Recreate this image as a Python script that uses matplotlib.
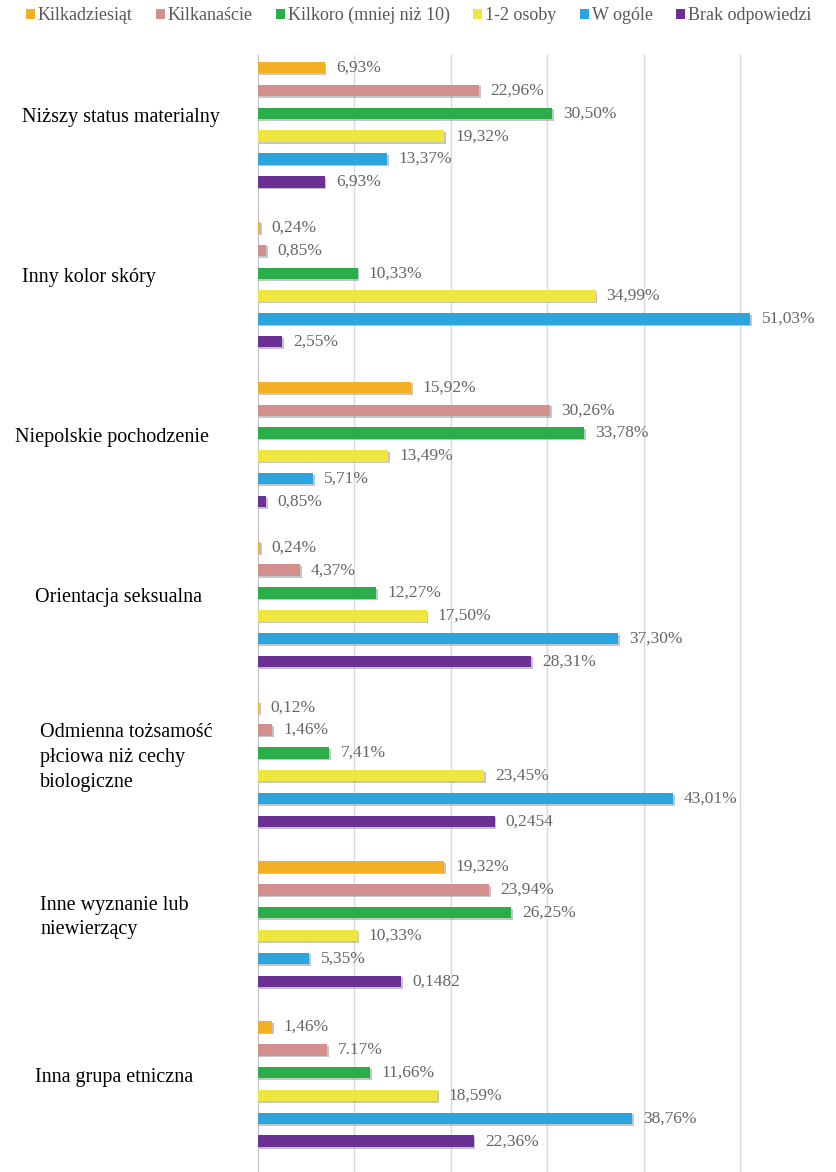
import matplotlib.pyplot as plt
import matplotlib.patheffects as pe
from matplotlib.patches import Patch
from matplotlib.transforms import blended_transform_factory

plt.rcParams['font.family'] = ['Liberation Serif', 'DejaVu Serif']

# Datos
kategorie = [
    'Niższy status materialny',
    'Inny kolor skóry',
    'Niepolskie pochodzenie',
    'Orientacja seksualna',
    'Odmienna tożsamość\npłciowa niż cechy\nbiologiczne',
    'Inne wyznanie lub\nniewierzący',
    'Inna grupa etniczna',
]
serie = ['Kilkadziesiąt', 'Kilkanaście', 'Kilkoro (mniej niż 10)', '1-2 osoby', 'W ogóle', 'Brak odpowiedzi']
kolory = ['#F4B025', '#D38F8E', '#2BAE4A', '#EEE73F', '#2CA4DF', '#6B3093']

kilkadziesiat = [6.93, 0.24, 15.92, 0.24, 0.12, 19.32, 1.46]
kilkanascie = [22.96, 0.85, 30.26, 4.37, 1.46, 23.94, 7.17]
kilkoro = [30.50, 10.33, 33.78, 12.27, 7.41, 26.25, 11.66]
jedna_dwie = [19.32, 34.99, 13.49, 17.50, 23.45, 10.33, 18.59]
w_ogole = [13.37, 51.03, 5.71, 37.30, 43.01, 5.35, 38.76]
brak = [6.93, 2.55, 0.85, 28.31, 24.54, 14.82, 22.36]

# etykiety tak jak na oryginale
et_kilkadziesiat = ['6,93%', '0,24%', '15,92%', '0,24%', '0,12%', '19,32%', '1,46%']
et_kilkanascie = ['22,96%', '0,85%', '30,26%', '4,37%', '1,46%', '23,94%', '7.17%']
et_kilkoro = ['30,50%', '10,33%', '33,78%', '12,27%', '7,41%', '26,25%', '11,66%']
et_jedna_dwie = ['19,32%', '34,99%', '13,49%', '17,50%', '23,45%', '10,33%', '18,59%']
et_w_ogole = ['13,37%', '51,03%', '5,71%', '37,30%', '43,01%', '5,35%', '38,76%']
et_brak = ['6,93%', '2,55%', '0,85%', '28,31%', '0,2454', '0,1482', '22,36%']

wartosci = [kilkadziesiat, kilkanascie, kilkoro, jedna_dwie, w_ogole, brak]
etykiety = [et_kilkadziesiat, et_kilkanascie, et_kilkoro, et_jedna_dwie, et_w_ogole, et_brak]

fig = plt.figure(figsize=(8.37, 11.72), dpi=100)
ax = fig.add_axes([0.308, 0.0, 0.692, 0.953])

cien = [pe.withSimplePatchShadow(offset=(1.2, -1.2), shadow_rgbFace='#7f7f7f', alpha=0.45)]

for k, (vals, labs) in enumerate(zip(wartosci, etykiety)):
    ys = [g * 7 + k for g in range(len(kategorie))]
    bars = ax.barh(ys, vals, height=0.5, color=kolory[k], zorder=3)
    for b in bars:
        b.set_path_effects(cien)
    for y, v, t in zip(ys, vals, labs):
        ax.annotate(t, (v, y), xytext=(8, 0), textcoords='offset points',
                    va='center', ha='left', fontsize=12.5, color='#666666')

ax.set_xlim(0, 60)
ax.set_ylim(48.35, -0.55)
ax.set_xticks(range(10, 60, 10))
ax.set_yticks([])
ax.tick_params(axis='x', length=0, labelbottom=False)
ax.grid(axis='x', color='#D9D9D9', linewidth=1)
ax.set_axisbelow(True)
for s in ['top', 'right', 'bottom']:
    ax.spines[s].set_visible(False)
ax.spines['left'].set_color('#BFBFBF')

# nazwy kategorii po lewej
trans = blended_transform_factory(fig.transFigure, ax.transData)
x_nazw = [0.026, 0.026, 0.018, 0.042, 0.048, 0.048, 0.042]
for g, (nazwa, xn) in enumerate(zip(kategorie, x_nazw)):
    ax.text(xn, g * 7 + 2.2, nazwa, transform=trans,
            ha='left', va='center', fontsize=14.5, color='black', linespacing=1.4)

uchwyty = [Patch(facecolor=c, edgecolor='none') for c in kolory]
fig.legend(uchwyty, serie, loc='upper center', bbox_to_anchor=(0.5, 1.008), ncol=6,
           frameon=False, prop={'family': 'Liberation Serif', 'size': 13},
           handlelength=0.5, handleheight=0.5,
           handletextpad=0.15, columnspacing=1.3, labelcolor='#595959')

fig.savefig('out.png', dpi=100, facecolor='white')
